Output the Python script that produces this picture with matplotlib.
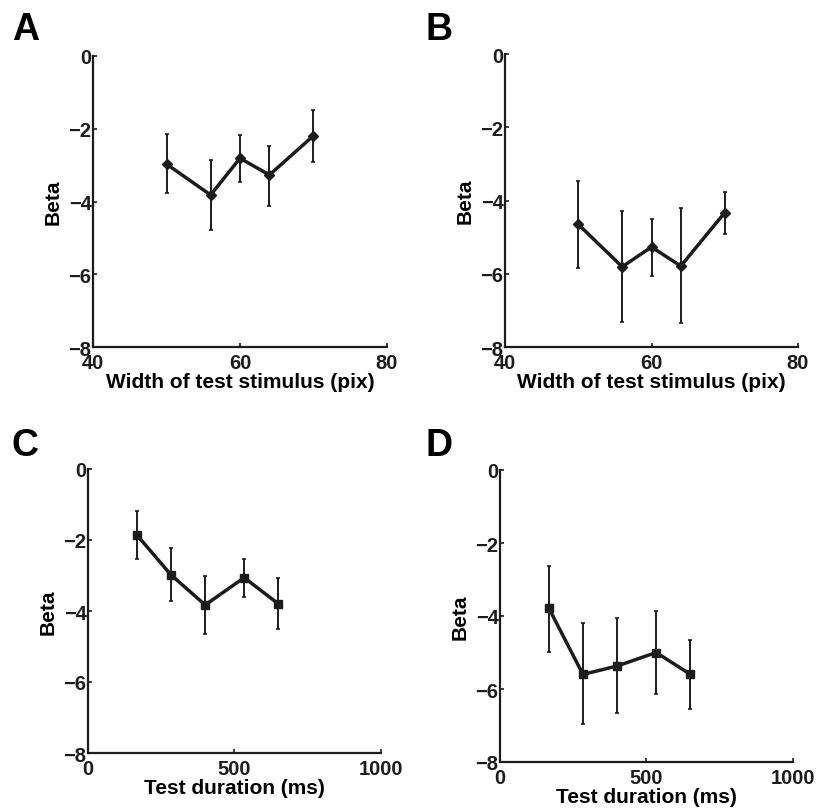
import matplotlib

matplotlib.use("Agg")

import matplotlib.pyplot as plt

plt.rcParams["font.family"] = ["Liberation Sans", "DejaVu Sans"]
plt.rcParams["font.weight"] = "bold"

# panels A/B: width of test stimulus (pix)
width_x = [50, 56, 60, 64, 70]
beta_a = [-2.97, -3.82, -2.81, -3.27, -2.19]
beta_a_hi = [-2.15, -2.86, -2.18, -2.47, -1.49]
beta_a_lo = [-3.78, -4.77, -3.47, -4.11, -2.91]

beta_b = [-4.65, -5.81, -5.27, -5.79, -4.33]
beta_b_hi = [-3.46, -4.30, -4.51, -4.21, -3.76]
beta_b_lo = [-5.83, -7.32, -6.06, -7.35, -4.92]

# panels C/D: test duration (ms)
dur_x = [167, 283, 400, 533, 650]
beta_c = [-1.86, -2.98, -3.83, -3.06, -3.80]
beta_c_hi = [-1.18, -2.23, -3.00, -2.53, -3.06]
beta_c_lo = [-2.53, -3.73, -4.65, -3.61, -4.50]

beta_d = [-3.79, -5.60, -5.37, -5.00, -5.60]
beta_d_hi = [-2.62, -4.20, -4.05, -3.86, -4.66]
beta_d_lo = [-4.98, -6.97, -6.67, -6.15, -6.54]

COLOR = "#1c1c1c"
W, H = 820, 812


def draw_panel(fig, box, letter_xy, letter, x, y, hi, lo, marker, xlim, xticks, xlabel):
    # box = (left, top, right, bottom) in pixels from the top-left corner
    left, top, right, bottom = box
    ax = fig.add_axes([left / W, 1 - bottom / H, (right - left) / W, (bottom - top) / H])
    yerr = [[m - l for m, l in zip(y, lo)], [h - m for m, h in zip(y, hi)]]
    ax.errorbar(x, y, yerr=yerr, color=COLOR, lw=2.5,
                marker=marker, ms=5.5 if marker == "s" else 5,
                elinewidth=1.4, capsize=1.5, capthick=1.2)
    ax.set_xlim(*xlim)
    ax.set_ylim(-8, 0)
    ax.set_xticks(xticks)
    ax.set_yticks([0, -2, -4, -6, -8])
    ax.set_yticklabels(["0", "\u22122", "\u22124", "\u22126", "\u22128"])
    for side in ("top", "right"):
        ax.spines[side].set_visible(False)
    for side in ("left", "bottom"):
        ax.spines[side].set_linewidth(1.6)
        ax.spines[side].set_color(COLOR)
    ax.tick_params(direction="in", length=3, width=1.2, labelsize=14.5,
                   colors=COLOR)
    ax.tick_params(axis="y", pad=1)
    ax.tick_params(axis="x", pad=4)
    ax.set_xlabel(xlabel, fontsize=15, fontweight="bold", labelpad=0)
    ax.set_ylabel("Beta", fontsize=15, fontweight="bold", labelpad=4)
    fig.text(letter_xy[0] / W, 1 - letter_xy[1] / H, letter, fontsize=27,
             fontweight="bold", va="baseline", ha="left")
    return ax


fig = plt.figure(figsize=(8.2, 8.12), dpi=100)

draw_panel(fig, (93, 57, 387, 348), (12, 40), "A", width_x, beta_a, beta_a_hi, beta_a_lo,
           "D", (40, 80), [40, 60, 80], "Width of test stimulus (pix)")
draw_panel(fig, (505, 55, 798, 348), (426, 40), "B", width_x, beta_b, beta_b_hi, beta_b_lo,
           "D", (40, 80), [40, 60, 80], "Width of test stimulus (pix)")
draw_panel(fig, (88, 470, 381, 754), (12, 456), "C", dur_x, beta_c, beta_c_hi, beta_c_lo,
           "s", (0, 1000), [0, 500, 1000], "Test duration (ms)")
draw_panel(fig, (500, 471, 793, 763), (426, 456), "D", dur_x, beta_d, beta_d_hi, beta_d_lo,
           "s", (0, 1000), [0, 500, 1000], "Test duration (ms)")

fig.savefig("out.png", dpi=100)
plt.close(fig)
